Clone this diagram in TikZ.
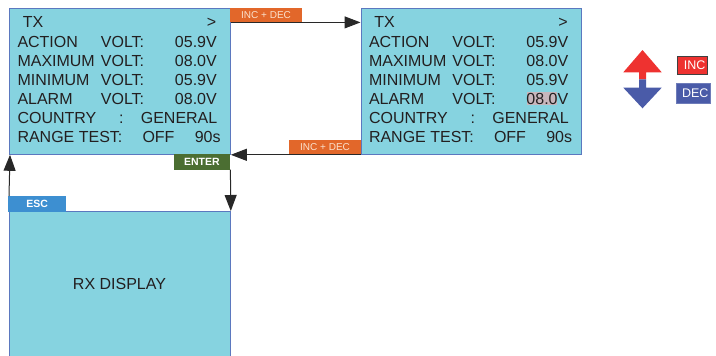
\documentclass[tikz,border=0pt]{standalone}
\usepackage{fontspec}
\setmainfont{Liberation Sans}
\usetikzlibrary{arrows.meta}
\definecolor{scrfill}{RGB}{134,211,224}
\definecolor{scrborder}{RGB}{91,120,191}
\definecolor{txtc}{RGB}{35,31,32}
\definecolor{tagorange}{RGB}{226,103,42}
\definecolor{tagorangetxt}{RGB}{250,225,205}
\definecolor{taggreen}{RGB}{75,110,50}
\definecolor{tagblue}{RGB}{61,143,209}
\definecolor{legred}{RGB}{238,50,48}
\definecolor{legblue}{RGB}{74,91,168}
\definecolor{hilite}{RGB}{200,182,188}
\definecolor{arrc}{RGB}{40,40,40}
\tikzset{
  screen/.style={draw=scrborder, fill=scrfill, line width=0.8pt, inner sep=0pt, anchor=north west},
  tagbox/.style={inner sep=0pt, anchor=north west, text=white},
  txt/.style={inner sep=0pt, text=txtc, font=\fontsize{16}{16}\selectfont},
  lt/.style={txt, anchor=base west},
  rt/.style={txt, anchor=base east},
  arr/.style={-{Triangle[length=16pt,width=12pt]}, line width=1pt, draw=arrc},
  legbox/.style={inner sep=0pt, text=white, font=\fontsize{12.5}{12.5}\selectfont, anchor=north west, line width=0.6pt}
}
\begin{document}
\begin{tikzpicture}[x=1pt,y=-1pt]
\useasboundingbox (0,0) rectangle (716,356);
% screens
\node[screen, minimum width=221pt, minimum height=146pt] (b1) at (9,8) {};
\node[screen, minimum width=220.5pt, minimum height=146pt] (b2) at (360.5,8) {};
\node[screen, minimum width=221pt, minimum height=150pt] (rx) at (9,211) {};
\node[txt] (rxt) at (119.5,283.5) {RX DISPLAY};
% highlight
\fill[hilite] (526.7,91.7) rectangle (556.7,105.2);
% screen texts
\foreach \dx/\s in {0/a,351.5/b}{
  \node[lt] (\s tx) at (22.7+\dx,27.3) {TX};
  \node[rt] (\s gt) at (216.5+\dx,27.3) {>};
  \node[lt] (\s r1) at (17.3+\dx,47.7) {ACTION};
  \node[lt] (\s v1) at (100.7+\dx,47.7) {VOLT:};
  \node[rt] (\s n1) at (217+\dx,47.7) {05.9V};
  \node[lt] (\s r2) at (17.3+\dx,66.9) {MAXIMUM};
  \node[lt] (\s v2) at (100.7+\dx,66.9) {VOLT:};
  \node[rt] (\s n2) at (217+\dx,66.9) {08.0V};
  \node[lt] (\s r3) at (17.3+\dx,85.6) {MINIMUM};
  \node[lt] (\s v3) at (100.7+\dx,85.6) {VOLT:};
  \node[rt] (\s n3) at (217+\dx,85.6) {05.9V};
  \node[lt] (\s r4) at (17.3+\dx,104.5) {ALARM};
  \node[lt] (\s v4) at (100.7+\dx,104.5) {VOLT:};
  \node[rt] (\s n4) at (217+\dx,104.5) {08.0V};
  \node[lt] (\s r5) at (17.3+\dx,123.6) {COUNTRY};
  \node[lt] (\s c5) at (118.8+\dx,123.6) {:};
  \node[rt] (\s n5) at (217.5+\dx,123.6) {GENERAL};
  \node[lt] (\s r6) at (17.3+\dx,142.7) {RANGE TEST:};
  \node[lt] (\s o6) at (142.3+\dx,142.7) {OFF};
  \node[rt] (\s n6) at (220.8+\dx,142.7) {90s};
}
% tags
\node[tagbox, fill=tagorange, text=tagorangetxt, minimum width=71.7pt, minimum height=14pt, font=\fontsize{10}{10}\selectfont] (l1) at (230,8) {INC + DEC};
\node[tagbox, fill=tagorange, text=tagorangetxt, minimum width=71.7pt, minimum height=14pt, font=\fontsize{10}{10}\selectfont] (l2) at (289,140) {INC + DEC};
\node[tagbox, fill=taggreen, minimum width=56.7pt, minimum height=15.3pt, font=\fontsize{10.5}{10.5}\selectfont\bfseries] (enter) at (173.3,154) {ENTER};
\node[tagbox, fill=tagblue, minimum width=57.7pt, minimum height=15.3pt, font=\fontsize{10.5}{10.5}\selectfont\bfseries] (esc) at (8,196) {ESC};
% connectors
\draw[arr] (b1.east |- l1.south) -- (b2.west |- l1.south);
\draw[arr] (b2.south west) -- (b1.south east);
\draw[arr] (enter.south east) -- (rx.north east);
\draw[arr] ([xshift=1pt]esc.north west) -- ([xshift=1pt]b1.south west);
% legend
\fill[legred] (623.3,72.3) -- (642.5,50) -- (661.7,72.3) -- (646,72.3) -- (646,79.3) -- (639,79.3) -- (639,72.3) -- cycle;
\fill[legblue] (639,79.3) -- (646,79.3) -- (646,87.7) -- (661.7,87.7) -- (642.5,108.3) -- (623.3,87.7) -- (639,87.7) -- cycle;
\node[legbox, draw=black!75, fill=legred, minimum width=30pt, minimum height=18.5pt] (inc) at (676.7,55.7) {\hspace*{5.5pt}INC};
\node[legbox, draw=legblue!80!white, fill=legblue, minimum width=34pt, minimum height=20pt] (dec) at (676,83.3) {\hspace*{4pt}DEC};
\end{tikzpicture}
\end{document}
